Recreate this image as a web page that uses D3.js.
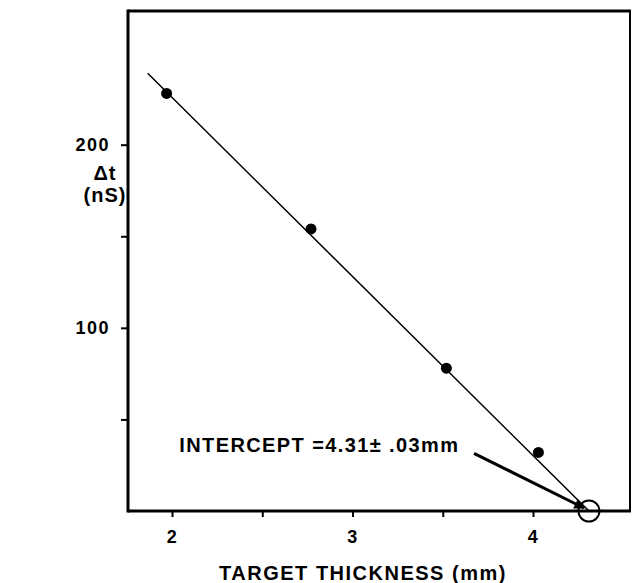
<!DOCTYPE html>
<html>
<head>
<meta charset="utf-8">
<script src="https://cdn.jsdelivr.net/npm/d3@7"></script>
<style>
  body { margin: 0; background: #fff; }
  svg text { font-family: "Liberation Sans", Arial, sans-serif; font-weight: bold; fill: #000; }
</style>
</head>
<body>
<svg class="chart"></svg>
<script>
// data
var thickness = [1.97, 2.77, 3.52, 4.03];
var deltaT = [228, 154, 78, 32];
var fitLine = [[1.865, 239], [4.31, 0]];
var intercept = [4.31, 0];
var xTicks = [2, 2.5, 3, 3.5, 4];
var xTickLabels = ["2", "", "3", "", "4"];
var yTicks = [50, 100, 150, 200];
var yTickLabels = ["", "100", "", "200"];
var annotation = "INTERCEPT =4.31\u00b1 .03mm";

var W = 632, H = 583;
var margin = {top: 11, right: 1, bottom: 72, left: 128},
    width = W - margin.left - margin.right,
    height = H - margin.top - margin.bottom;

var svg = d3.select(".chart").attr("width", W).attr("height", H);
var g = svg.append("g").attr("transform", "translate(" + margin.left + "," + margin.top + ")");

var x = d3.scaleLinear().domain([1.756, 4.543]).range([0, width]);
var y = d3.scaleLinear().domain([0, 273]).range([height, 0]);

// axes
var xAxis = d3.axisBottom(x).tickValues(xTicks).tickSize(6).tickPadding(13)
    .tickFormat(function(d, i) { return xTickLabels[i]; });
var yAxis = d3.axisLeft(y).tickValues(yTicks).tickSize(7).tickPadding(11)
    .tickFormat(function(d, i) { return yTickLabels[i]; });

var gx = g.append("g").attr("transform", "translate(0," + height + ")").call(xAxis);
var gy = g.append("g").call(yAxis);
[gx, gy].forEach(function(a) {
    a.select(".domain").remove();
    a.selectAll(".tick line").attr("stroke", "#000").attr("stroke-width", 2);
    a.selectAll(".tick text").style("font-size", "18px").attr("letter-spacing", "1.5px");
});

// frame
g.append("line").attr("x1", 0).attr("x2", width).attr("y1", 0).attr("y2", 0)
    .attr("stroke", "#000").attr("stroke-width", 3);
g.append("line").attr("x1", 0).attr("x2", 0).attr("y1", -1.5).attr("y2", height + 1.5)
    .attr("stroke", "#000").attr("stroke-width", 3);
g.append("line").attr("x1", 0).attr("x2", width).attr("y1", height).attr("y2", height)
    .attr("stroke", "#000").attr("stroke-width", 3);
g.append("line").attr("x1", width - 1).attr("x2", width - 1).attr("y1", 0).attr("y2", height)
    .attr("stroke", "#000").attr("stroke-width", 2);

// fitted line
var line = d3.line().x(function(d) { return x(d[0]); }).y(function(d) { return y(d[1]); });
g.append("path").datum(fitLine).attr("d", line)
    .attr("fill", "none").attr("stroke", "#000").attr("stroke-width", 1.5);

// points
g.selectAll(".pt").data(thickness).enter().append("circle")
    .attr("class", "pt")
    .attr("cx", function(d) { return x(d); })
    .attr("cy", function(d, i) { return y(deltaT[i]); })
    .attr("r", 5.5).attr("fill", "#000");

// intercept circle
g.append("circle").attr("cx", x(intercept[0])).attr("cy", y(intercept[1])).attr("r", 10.5)
    .attr("fill", "none").attr("stroke", "#000").attr("stroke-width", 2);

// annotation + arrow
svg.append("defs").append("marker")
    .attr("id", "arrow").attr("viewBox", "0 0 10 10").attr("refX", 9).attr("refY", 5)
    .attr("markerWidth", 6).attr("markerHeight", 3.5).attr("orient", "auto")
    .attr("markerUnits", "strokeWidth")
    .append("path").attr("d", "M0,0L10,5L0,10z").attr("fill", "#000");

g.append("text").attr("x", x(2.04)).attr("y", y(32))
    .style("font-size", "20px").attr("letter-spacing", "1.4px").text(annotation);
g.append("line")
    .attr("x1", x(4.0) - 59).attr("y1", y(31.5))
    .attr("x2", x(intercept[0]) - 5).attr("y2", y(intercept[1]) - 3)
    .attr("stroke", "#000").attr("stroke-width", 3).attr("marker-end", "url(#arrow)");

// axis titles
svg.append("text").attr("x", 363).attr("y", 580).attr("text-anchor", "middle")
    .style("font-size", "20px").attr("letter-spacing", "1.5px").text("TARGET THICKNESS (mm)");
svg.append("text").attr("x", 105).attr("y", 180).attr("text-anchor", "middle")
    .style("font-size", "20px").attr("letter-spacing", "1px").text("\u0394t");
svg.append("text").attr("x", 105).attr("y", 202).attr("text-anchor", "middle")
    .style("font-size", "20px").attr("letter-spacing", "1px").text("(nS)");
</script>
</body>
</html>
